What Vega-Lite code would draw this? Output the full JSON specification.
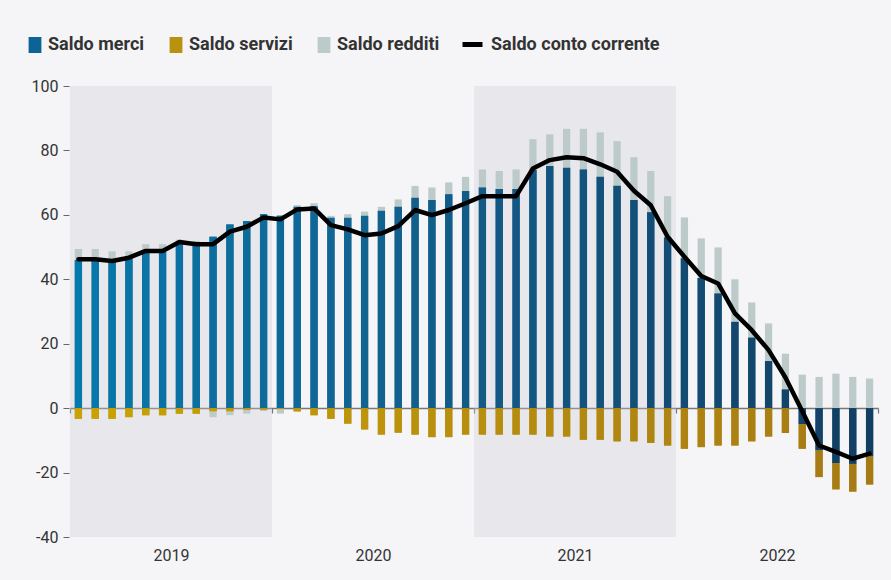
{
  "$schema": "https://vega.github.io/schema/vega-lite/v6.json",
  "width": 808,
  "height": 451,
  "autosize": {"type": "none"},
  "padding": {"left": 70, "top": 86, "right": 13, "bottom": 43},
  "background": "#f5f5f7",
  "config": {
    "font": "Roboto",
    "view": {"stroke": null},
    "axisY": {"domain": false, "grid": false, "tickSize": 6, "tickColor": "#666666", "labelFontSize": 16, "labelColor": "#333333", "labelPadding": 5, "offset": 1}
  },
  "datasets": {
    "mensile": [
      {"mese": "2019-01", "Saldo merci": 46.0, "Saldo servizi": -3.3, "Saldo redditi": 3.4, "conto": 46.2},
      {"mese": "2019-02", "Saldo merci": 46.0, "Saldo servizi": -3.3, "Saldo redditi": 3.4, "conto": 46.2},
      {"mese": "2019-03", "Saldo merci": 45.5, "Saldo servizi": -3.3, "Saldo redditi": 3.2, "conto": 45.7},
      {"mese": "2019-04", "Saldo merci": 46.5, "Saldo servizi": -2.8, "Saldo redditi": 2.2, "conto": 46.7},
      {"mese": "2019-05", "Saldo merci": 48.5, "Saldo servizi": -2.2, "Saldo redditi": 2.4, "conto": 48.8},
      {"mese": "2019-06", "Saldo merci": 48.5, "Saldo servizi": -2.2, "Saldo redditi": 2.4, "conto": 48.8},
      {"mese": "2019-07", "Saldo merci": 51.5, "Saldo servizi": -1.7, "Saldo redditi": 0.8, "conto": 51.6},
      {"mese": "2019-08", "Saldo merci": 51.2, "Saldo servizi": -1.7, "Saldo redditi": 0.7, "conto": 50.9},
      {"mese": "2019-09", "Saldo merci": 53.2, "Saldo servizi": -1.0, "Saldo redditi": -1.8, "conto": 50.9},
      {"mese": "2019-10", "Saldo merci": 57.0, "Saldo servizi": -1.0, "Saldo redditi": -1.2, "conto": 54.8},
      {"mese": "2019-11", "Saldo merci": 58.1, "Saldo servizi": -0.5, "Saldo redditi": -1.2, "conto": 56.3},
      {"mese": "2019-12", "Saldo merci": 60.2, "Saldo servizi": -0.5, "Saldo redditi": -0.4, "conto": 59.2},
      {"mese": "2020-01", "Saldo merci": 59.7, "Saldo servizi": -0.3, "Saldo redditi": -1.4, "conto": 58.6},
      {"mese": "2020-02", "Saldo merci": 62.5, "Saldo servizi": -1.0, "Saldo redditi": 0.5, "conto": 61.7},
      {"mese": "2020-03", "Saldo merci": 62.7, "Saldo servizi": -2.2, "Saldo redditi": 0.9, "conto": 62.0},
      {"mese": "2020-04", "Saldo merci": 59.1, "Saldo servizi": -3.3, "Saldo redditi": 0.6, "conto": 56.8},
      {"mese": "2020-05", "Saldo merci": 59.1, "Saldo servizi": -4.8, "Saldo redditi": 1.1, "conto": 55.5},
      {"mese": "2020-06", "Saldo merci": 59.7, "Saldo servizi": -6.6, "Saldo redditi": 1.3, "conto": 53.7},
      {"mese": "2020-07", "Saldo merci": 61.3, "Saldo servizi": -8.2, "Saldo redditi": 1.2, "conto": 54.2},
      {"mese": "2020-08", "Saldo merci": 62.5, "Saldo servizi": -7.6, "Saldo redditi": 2.3, "conto": 56.5},
      {"mese": "2020-09", "Saldo merci": 65.3, "Saldo servizi": -8.2, "Saldo redditi": 3.7, "conto": 61.5},
      {"mese": "2020-10", "Saldo merci": 64.6, "Saldo servizi": -9.0, "Saldo redditi": 3.9, "conto": 59.9},
      {"mese": "2020-11", "Saldo merci": 66.4, "Saldo servizi": -9.0, "Saldo redditi": 3.7, "conto": 61.5},
      {"mese": "2020-12", "Saldo merci": 67.4, "Saldo servizi": -8.2, "Saldo redditi": 4.4, "conto": 63.6},
      {"mese": "2021-01", "Saldo merci": 68.5, "Saldo servizi": -8.2, "Saldo redditi": 5.6, "conto": 65.8},
      {"mese": "2021-02", "Saldo merci": 68.0, "Saldo servizi": -8.2, "Saldo redditi": 5.6, "conto": 65.8},
      {"mese": "2021-03", "Saldo merci": 68.0, "Saldo servizi": -8.2, "Saldo redditi": 6.1, "conto": 65.8},
      {"mese": "2021-04", "Saldo merci": 73.9, "Saldo servizi": -8.2, "Saldo redditi": 9.6, "conto": 74.4},
      {"mese": "2021-05", "Saldo merci": 75.2, "Saldo servizi": -8.8, "Saldo redditi": 9.8, "conto": 77.0},
      {"mese": "2021-06", "Saldo merci": 74.6, "Saldo servizi": -8.8, "Saldo redditi": 12.1, "conto": 77.9},
      {"mese": "2021-07", "Saldo merci": 74.1, "Saldo servizi": -9.8, "Saldo redditi": 12.6, "conto": 77.6},
      {"mese": "2021-08", "Saldo merci": 71.8, "Saldo servizi": -9.8, "Saldo redditi": 13.8, "conto": 75.7},
      {"mese": "2021-09", "Saldo merci": 69.0, "Saldo servizi": -10.3, "Saldo redditi": 13.9, "conto": 73.4},
      {"mese": "2021-10", "Saldo merci": 64.6, "Saldo servizi": -10.3, "Saldo redditi": 13.3, "conto": 67.5},
      {"mese": "2021-11", "Saldo merci": 60.8, "Saldo servizi": -10.8, "Saldo redditi": 12.8, "conto": 63.0},
      {"mese": "2021-12", "Saldo merci": 53.0, "Saldo servizi": -11.6, "Saldo redditi": 12.8, "conto": 53.2},
      {"mese": "2022-01", "Saldo merci": 46.5, "Saldo servizi": -12.6, "Saldo redditi": 12.7, "conto": 47.0},
      {"mese": "2022-02", "Saldo merci": 40.4, "Saldo servizi": -12.1, "Saldo redditi": 12.3, "conto": 41.0},
      {"mese": "2022-03", "Saldo merci": 35.6, "Saldo servizi": -11.6, "Saldo redditi": 14.3, "conto": 38.7},
      {"mese": "2022-04", "Saldo merci": 26.8, "Saldo servizi": -11.6, "Saldo redditi": 13.2, "conto": 29.4},
      {"mese": "2022-05", "Saldo merci": 21.9, "Saldo servizi": -10.3, "Saldo redditi": 10.9, "conto": 24.2},
      {"mese": "2022-06", "Saldo merci": 14.6, "Saldo servizi": -8.8, "Saldo redditi": 11.7, "conto": 18.0},
      {"mese": "2022-07", "Saldo merci": 5.8, "Saldo servizi": -7.7, "Saldo redditi": 11.1, "conto": 9.5},
      {"mese": "2022-08", "Saldo merci": -5.0, "Saldo servizi": -7.6, "Saldo redditi": 10.4, "conto": -1.0},
      {"mese": "2022-09", "Saldo merci": -13.1, "Saldo servizi": -8.3, "Saldo redditi": 9.7, "conto": -11.6},
      {"mese": "2022-10", "Saldo merci": -17.1, "Saldo servizi": -8.1, "Saldo redditi": 10.7, "conto": -13.6},
      {"mese": "2022-11", "Saldo merci": -17.3, "Saldo servizi": -8.6, "Saldo redditi": 9.7, "conto": -15.7},
      {"mese": "2022-12", "Saldo merci": -15.0, "Saldo servizi": -8.7, "Saldo redditi": 9.2, "conto": -14.1}
    ],
    "ordine": [
      {"serie": "Saldo merci", "o": 1},
      {"serie": "Saldo servizi", "o": 2},
      {"serie": "Saldo redditi", "o": 3}
    ],
    "fasce": [
      {"da": 2019, "a": 2020},
      {"da": 2021, "a": 2022}
    ]
  },
  "layer": [
    {
      "data": {"name": "fasce"},
      "mark": {"type": "rect", "fill": "#c9c9d8", "opacity": 0.32},
      "encoding": {
        "x": {"field": "da", "type": "quantitative", "title": null,
              "scale": {"domain": [2019, 2023], "nice": false, "zero": false},
              "axis": {"values": [2019, 2020, 2021, 2022, 2023], "labelExpr": "datum.value < 2023 ? '' + datum.value : ''",
                       "labelOffset": 101, "offset": -129, "grid": false, "domainColor": "#777777", "domainWidth": 1.5,
                       "tickColor": "#777777", "tickSize": 5, "tickWidth": 1.2, "labelPadding": 134, "labelFontSize": 16,
                       "labelColor": "#333333", "labelFlush": false, "labelOverlap": false, "labelBound": false}},
        "x2": {"field": "a"},
        "y": {"datum": 100, "type": "quantitative", "title": null, "scale": {"domain": [-40, 100], "nice": false},
              "axis": {"values": [-40, -20, 0, 20, 40, 60, 80, 100], "labelExpr": "'' + datum.value", "title": null}},
        "y2": {"datum": -40}
      }
    },
    {
      "data": {"name": "mensile"},
      "transform": [
        {"fold": ["Saldo merci", "Saldo servizi", "Saldo redditi"], "as": ["serie", "v"]},
        {"lookup": "serie", "from": {"data": {"name": "ordine"}, "key": "serie", "fields": ["o"]}},
        {"stack": "v", "groupby": ["mese"], "sort": [{"field": "o", "order": "ascending"}], "as": ["y0", "y1"], "offset": "zero"}
      ],
      "encoding": {
        "x": {"field": "mese", "timeUnit": "utcyearmonth", "type": "ordinal", "axis": null,
              "scale": {"type": "band", "paddingInner": 0, "paddingOuter": 0}},
        "y": {"field": "y1", "type": "quantitative", "title": null, "scale": {"domain": [-40, 100], "nice": false}},
        "y2": {"field": "y0"}
      },
      "layer": [
        {
          "mark": {"type": "bar", "width": {"band": 0.43}},
          "encoding": {
            "color": {"field": "serie", "type": "nominal",
                      "scale": {"domain": ["Saldo merci", "Saldo servizi", "Saldo redditi"], "range": ["#0c6395", "#b8910e", "#bdcaca"]},
                      "legend": {"orient": "none", "legendX": -44, "legendY": -50, "direction": "horizontal", "title": null,
                                 "symbolType": "M-0.8,-1H0.8V1H-0.8Z", "symbolSize": 256, "symbolStrokeWidth": 0,
                                 "labelFontSize": 18, "labelFontWeight": "bold", "labelColor": "#333333", "labelLimit": 300,
                                 "columnPadding": 22, "labelOffset": 4, "padding": 0}}
          }
        },
        {
          "transform": [{"filter": "datum.serie == 'Saldo merci'"}],
          "mark": {"type": "bar", "width": {"band": 0.43}},
          "encoding": {
            "color": {"field": "mese", "type": "temporal", "scale": {"type": "utc", "range": ["#0479ab", "#123e62"]}, "legend": null}
          }
        },
        {
          "transform": [{"filter": "datum.serie == 'Saldo servizi'"}],
          "mark": {"type": "bar", "width": {"band": 0.43}},
          "encoding": {
            "color": {"field": "mese", "type": "temporal", "scale": {"type": "utc", "range": ["#c9a300", "#a57a15"]}, "legend": null}
          }
        }
      ],
      "resolve": {"scale": {"color": "independent"}}
    },
    {
      "data": {"name": "mensile"},
      "mark": {"type": "line", "strokeWidth": 4.5, "strokeCap": "round", "strokeJoin": "round"},
      "encoding": {
        "x": {"field": "mese", "timeUnit": "utcyearmonth", "type": "ordinal", "axis": null,
              "scale": {"type": "band", "paddingInner": 0, "paddingOuter": 0}},
        "y": {"field": "conto", "type": "quantitative", "title": null, "scale": {"domain": [-40, 100], "nice": false}},
        "color": {"datum": "Saldo conto corrente", "type": "nominal", "scale": {"range": ["#000000"]},
                  "legend": {"orient": "none", "legendX": 390, "legendY": -54, "title": null, "symbolType": "stroke",
                             "symbolSize": 400, "symbolStrokeWidth": 5, "labelFontSize": 18, "labelFontWeight": "bold",
                             "labelColor": "#333333", "labelLimit": 300, "labelOffset": 6, "padding": 0}}
      }
    }
  ],
  "resolve": {"scale": {"x": "independent", "color": "independent"}, "axis": {"x": "independent"}}
}
